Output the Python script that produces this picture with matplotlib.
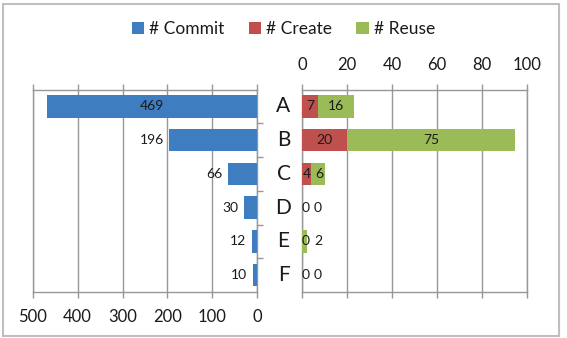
import matplotlib
matplotlib.use("Agg")
import matplotlib.pyplot as plt
from matplotlib.patches import Rectangle, Patch
from matplotlib.transforms import blended_transform_factory
import numpy as np

categories = ["A", "B", "C", "D", "E", "F"]
commit = [469, 196, 66, 30, 12, 10]
create = [7, 20, 4, 0, 0, 0]
reuse = [16, 75, 6, 0, 2, 0]
left_ticks = [0, 100, 200, 300, 400, 500]
right_ticks = [0, 20, 40, 60, 80, 100]

C_BLUE = "#3E7DBF"
C_RED = "#C0504D"
C_GREEN = "#9BBB59"
GRID = "#989898"
TXT = "#1A1A1A"

plt.rcParams["font.family"] = ["Lato", "DejaVu Sans"]

W, H = 567, 338
fig = plt.figure(figsize=(W / 100, H / 100), dpi=100)

def px_rect(x0, y0, x1, y1):
    return [x0 / W, 1 - y1 / H, (x1 - x0) / W, (y1 - y0) / H]

axL = fig.add_axes(px_rect(32.7, 89.5, 257.3, 292))
axR = fig.add_axes(px_rect(302.3, 89.5, 526.7, 292))

y = np.arange(len(categories))
bh = 0.66

# Left panel
axL.barh(y, commit, height=bh, color=C_BLUE, zorder=3)
axL.set_xlim(500, 0)
axL.set_ylim(len(categories) - 0.5, -0.5)
axL.set_xticks(left_ticks)
axL.set_xticklabels([str(t) for t in left_ticks])
axL.grid(axis="x", color=GRID, linewidth=1.0, zorder=0)
axL.set_yticks([])
axL.set_yticks(np.arange(len(categories) - 1) + 0.5, minor=True)
axL.yaxis.tick_right()
axL.tick_params(axis="y", which="minor", right=True, left=False, direction="out",
                length=4, width=1.0, color=GRID)
axL.tick_params(axis="x", which="major", top=True, bottom=True, direction="out",
                length=4, width=1.0, color=GRID, labelsize=12, labelcolor=TXT, pad=8)
for s in axL.spines.values():
    s.set_color(GRID)
    s.set_linewidth(1.0)

for i, v in enumerate(commit):
    if v > 300:
        axL.text(v / 2, i, str(v), ha="center", va="center", fontsize=10, color=TXT, zorder=4)
    else:
        axL.annotate(str(v), (v, i), xytext=(-4, 0), textcoords="offset points",
                     ha="right", va="center", fontsize=10, color=TXT, zorder=4)

# Right panel
axR.barh(y, create, height=bh, color=C_RED, zorder=3)
axR.barh(y, reuse, left=create, height=bh, color=C_GREEN, zorder=3)
axR.set_xlim(0, 100)
axR.set_ylim(len(categories) - 0.5, -0.5)
axR.set_xticks(right_ticks)
axR.set_xticklabels([str(t) for t in right_ticks])
axR.grid(axis="x", color=GRID, linewidth=1.0, zorder=0)
axR.set_yticks([])
axR.xaxis.tick_top()
axR.tick_params(axis="x", which="major", top=True, bottom=True, labeltop=True,
                labelbottom=False, direction="out", length=4, width=1.0, color=GRID,
                labelsize=12, labelcolor=TXT, pad=8)
for s in axR.spines.values():
    s.set_color(GRID)
    s.set_linewidth(1.0)

for i, (c, r) in enumerate(zip(create, reuse)):
    x1 = max(c / 2, 1.5)
    x2 = max(c + r / 2, x1 + 5.5)
    axR.text(x1, i, str(c), ha="center", va="center", fontsize=10, color=TXT, zorder=4)
    axR.text(x2, i, str(r), ha="center", va="center", fontsize=10, color=TXT, zorder=4)

# Category labels in the middle
tr = blended_transform_factory(fig.transFigure, axR.transData)
for i, cat in enumerate(categories):
    fig.text(283.5 / W, i, cat, transform=tr, ha="center", va="center",
             fontsize=15, color=TXT)

# Legend
handles = [Patch(facecolor=C_BLUE, label="# Commit"),
           Patch(facecolor=C_RED, label="# Create"),
           Patch(facecolor=C_GREEN, label="# Reuse")]
fig.legend(handles=handles, loc="center", bbox_to_anchor=(283.5 / W, 1 - 29 / H),
           ncol=3, frameon=False, fontsize=12.5, handlelength=0.7, handleheight=0.7,
           handletextpad=0.3, columnspacing=1.4, labelcolor=TXT)

# Outer border
fig.patches.append(Rectangle((3 / W, 1 - 335.5 / H), (558.5 - 3) / W, (335.5 - 4) / H,
                             transform=fig.transFigure, fill=False,
                             edgecolor="#BFBFBF", linewidth=1.5))

fig.savefig("out.png", dpi=100)
